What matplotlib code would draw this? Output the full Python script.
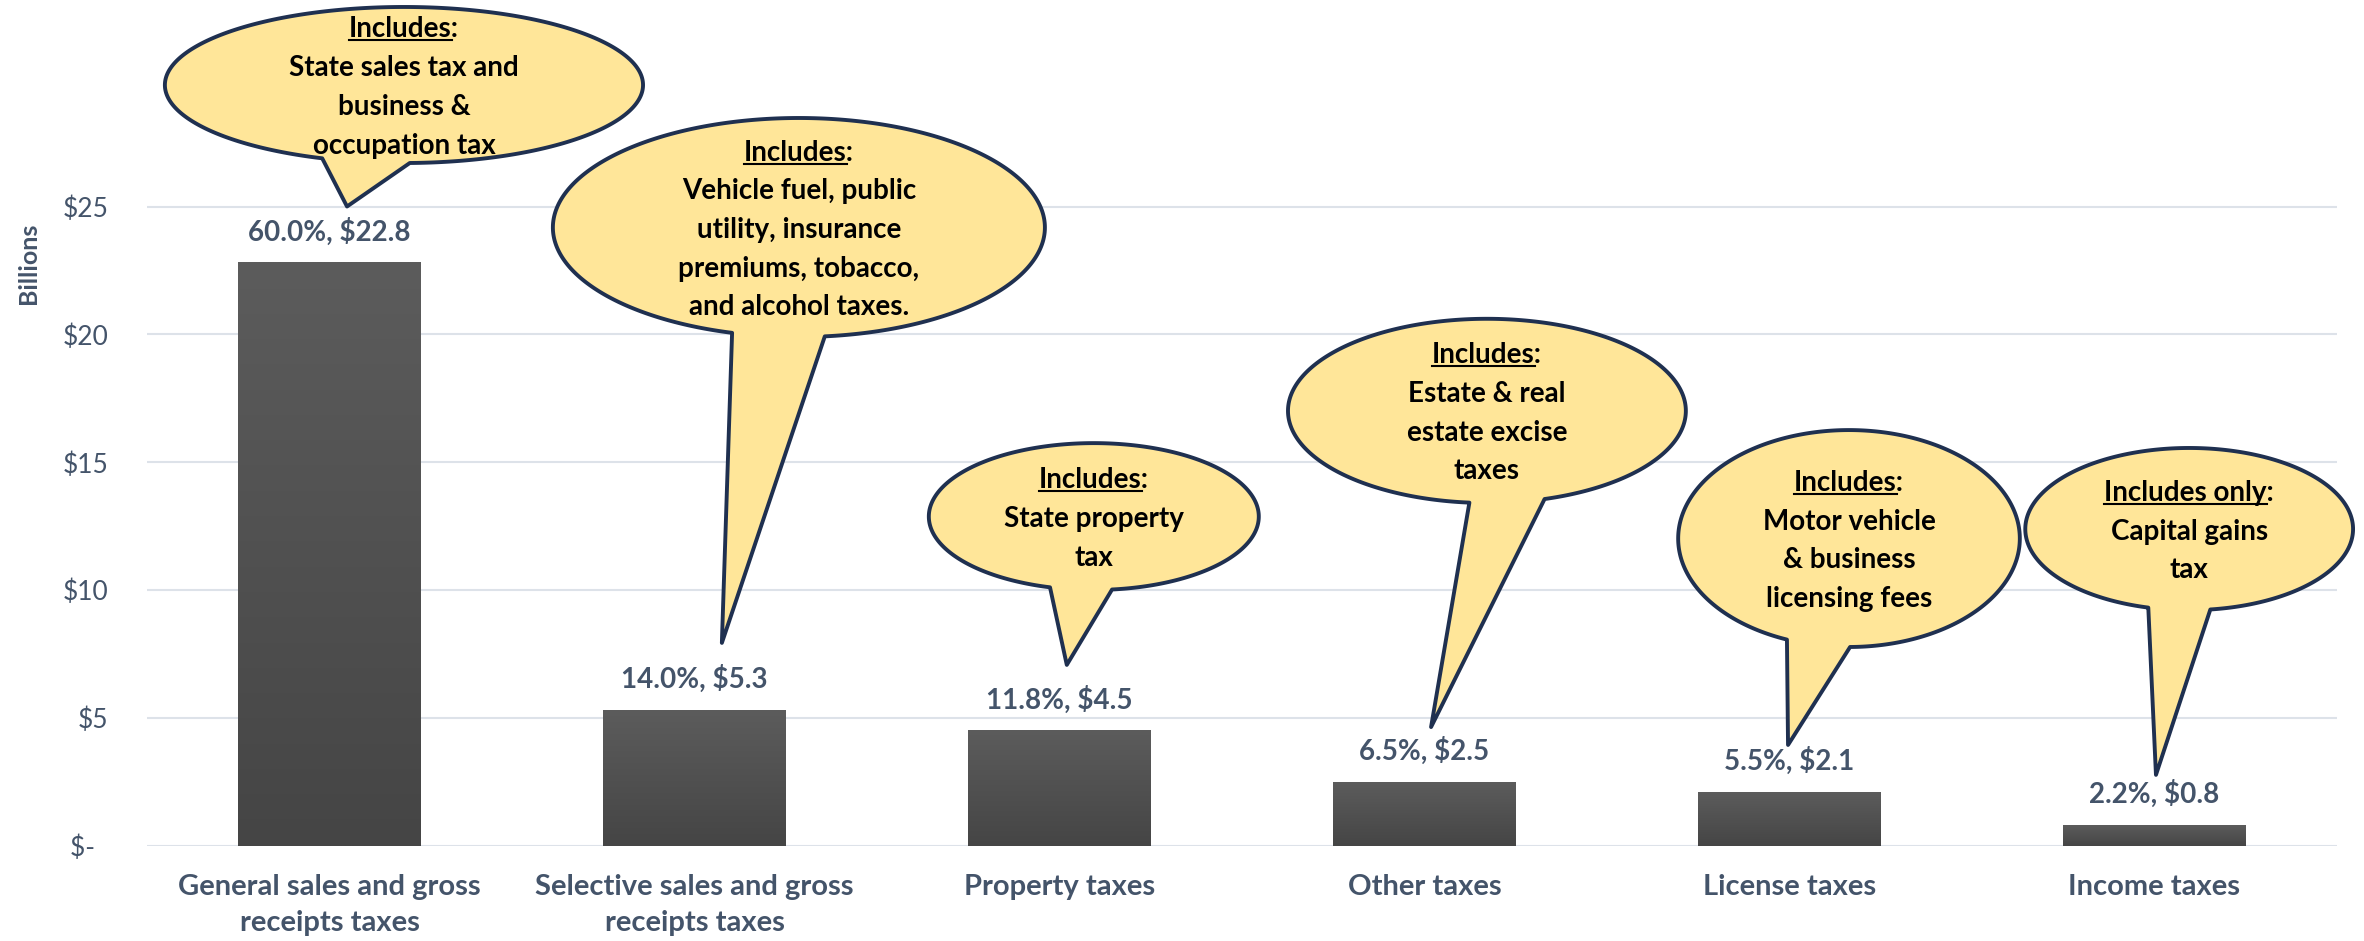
import numpy as np
import matplotlib.pyplot as plt
from matplotlib.patches import Polygon
from matplotlib.colors import LinearSegmentedColormap
from matplotlib.lines import Line2D

plt.rcParams['font.family'] = ['Lato', 'DejaVu Sans']

# state tax collections by category (billions of dollars, share of total)
categories = ["General sales and gross\nreceipts taxes",
              "Selective sales and gross\nreceipts taxes",
              "Property taxes", "Other taxes", "License taxes", "Income taxes"]
amounts = [22.8, 5.3, 4.5, 2.5, 2.1, 0.8]
shares = [60.0, 14.0, 11.8, 6.5, 5.5, 2.2]

y_ticks = [0, 5, 10, 15, 20, 25]
y_tick_labels = ["$-  ", "$5", "$10", "$15", "$20", "$25"]

note_heads = ["Includes", "Includes", "Includes", "Includes", "Includes", "Includes only"]
note_bodies = [
    ["State sales tax and", "business &", "occupation tax"],
    ["Vehicle fuel, public", "utility, insurance", "premiums, tobacco,", "and alcohol taxes."],
    ["State property", "tax"],
    ["Estate & real", "estate excise", "taxes"],
    ["Motor vehicle", "& business", "licensing fees"],
    ["Capital gains", "tax"],
]

# speech-bubble layout in data units: centre, radii, tail base x's, tail tip
bubbles = [
    dict(c=(0.204, 29.75), r=(0.655, 3.05), base=(-0.020, 0.220), tip=(0.048, 25.0)),
    dict(c=(1.286, 24.18), r=(0.674, 4.28), base=(1.103, 1.357), tip=(1.075, 7.94)),
    dict(c=(2.094, 12.88), r=(0.452, 2.87), base=(1.974, 2.144), tip=(2.020, 7.08)),
    dict(c=(3.171, 17.01), r=(0.545, 3.60), base=(3.123, 3.329), tip=(3.018, 4.65)),
    dict(c=(4.163, 12.02), r=(0.468, 4.24), base=(3.993, 4.166), tip=(3.996, 3.95)),
    dict(c=(5.095, 12.39), r=(0.449, 3.17), base=(4.983, 5.153), tip=(5.004, 2.78)),
]

TEXT = '#44546A'
FS = 20

fig = plt.figure(figsize=(23.64, 9.41), dpi=100)
ax = fig.add_axes([147 / 2364, 95 / 941, 2190 / 2364, 846 / 941])

x = np.arange(len(categories))
bar_w = 0.5
bars = ax.bar(x, amounts, width=bar_w, color='#505050', zorder=2)

# vertical grey gradient on each bar
cmap = LinearSegmentedColormap.from_list('bar', ['#454545', '#5c5c5c'])
grad = np.linspace(0, 1, 256).reshape(-1, 1)
for b in bars:
    x0, h = b.get_x(), b.get_height()
    ax.imshow(grad, extent=[x0, x0 + bar_w, 0, h], origin='lower', aspect='auto',
              cmap=cmap, zorder=2.1)

for xi, v, p in zip(x, amounts, shares):
    ax.annotate(f"{p:.1f}%, ${v:.1f}", (xi, v), xytext=(0, 22.5), textcoords='offset points',
                ha='center', va='center', fontsize=FS, fontweight='bold', color=TEXT)

ax.set_xlim(-0.5, 5.5)
ax.set_ylim(0, 846 / 25.58)
ax.set_xticks(x)
ax.set_xticklabels(categories, fontsize=21, fontweight='bold', color=TEXT, linespacing=1.5)
ax.set_yticks(y_ticks)
ax.set_yticklabels(y_tick_labels, fontsize=19, color=TEXT)
ax.tick_params(axis='x', length=0, pad=20)
ax.tick_params(axis='y', length=0, pad=28)
ax.grid(axis='y', color='#dde2e9', linewidth=1.5)
ax.set_axisbelow(True)
for s in ax.spines.values():
    s.set_visible(False)

fig.text(28 / 2364, 1 - 263 / 941, "Billions", rotation=90, ha='center', va='center',
         fontsize=18, fontweight='bold', color=TEXT)

# speech bubbles
step = 1.513
heads = []
for i, (bb, head, body) in enumerate(zip(bubbles, note_heads, note_bodies)):
    cx, cy = bb['c']
    rx, ry = bb['r']
    tl = -np.arccos((bb['base'][0] - cx) / rx)
    tr = -np.arccos((bb['base'][1] - cx) / rx)
    t = np.linspace(tr, tl + 2 * np.pi, 400)
    pts = np.column_stack([cx + rx * np.cos(t), cy + ry * np.sin(t)])
    pts = np.vstack([pts, bb['tip']])
    ax.add_patch(Polygon(pts, closed=True, facecolor='#FFE699', edgecolor='#1f3050',
                         linewidth=2.8, joinstyle='round', zorder=5 + 2 * i, clip_on=False))
    lines = [head + ":"] + body
    top = cy - 0.1 + (len(lines) - 1) / 2 * step
    for k, ln in enumerate(lines):
        tx = ax.text(cx, top - k * step, ln, ha='center', va='center', fontsize=FS,
                     fontweight='bold', color='black', zorder=6 + 2 * i, clip_on=False)
        if k == 0:
            heads.append((tx, head, 6 + 2 * i))

# underline the "Includes" word in each bubble
fig.canvas.draw()
rend = fig.canvas.get_renderer()
inv = fig.transFigure.inverted()
for tx, word, z in heads:
    box = tx.get_window_extent(rend)
    tmp = fig.text(0, 0, word, fontsize=FS, fontweight='bold')
    w = tmp.get_window_extent(rend).width
    tmp.remove()
    (fx0, fy), (fx1, _) = inv.transform([(box.x0, box.y0 + 2), (box.x0 + w, box.y0 + 2)])
    fig.add_artist(Line2D([fx0, fx1], [fy, fy], transform=fig.transFigure,
                          color='black', linewidth=1.5, zorder=z))

fig.savefig('out.png', dpi=100)
